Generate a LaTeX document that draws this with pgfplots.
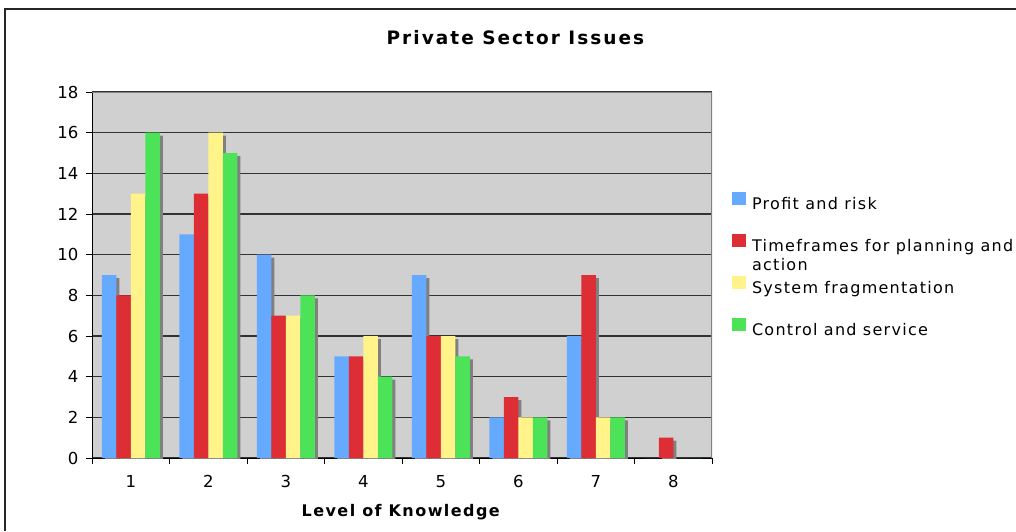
\documentclass[border=0pt]{standalone}
\usepackage{fontspec}
\setmainfont{DejaVu Sans}
\newfontfamily\titlefont[LetterSpace=11]{DejaVu Sans}
\newfontfamily\legfont[LetterSpace=8]{DejaVu Sans}
\newfontfamily\labfont[LetterSpace=9]{DejaVu Sans}
\newfontfamily\tickfont{DejaVu Sans}
\usepackage{pgfplots}
\pgfplotsset{compat=1.18}
\definecolor{cblue}{HTML}{66AAFF}
\definecolor{cred}{HTML}{DD2D35}
\definecolor{cyellow}{HTML}{FFF38A}
\definecolor{cgreen}{HTML}{4DE358}
\definecolor{plotbg}{HTML}{D0D0D0}
\definecolor{shadowc}{HTML}{808080}
\begin{document}
\begin{tikzpicture}
\path[use as bounding box] (0pt,0pt) rectangle (1016pt,531pt);
\draw[line width=1.5pt, black!85] (5pt,0pt) -- (5pt,522pt) -- (1016pt,522pt);
\begin{axis}[
  at={(92pt,73pt)}, anchor=south west,
  scale only axis, width=620pt, height=366pt,
  xmin=0.5, xmax=8.5, ymin=0, ymax=18,
  axis x line*=bottom, axis y line*=left,
  axis line style={black, line width=1pt},
  axis background/.style={fill=plotbg},
  ytick={0,2,...,18},
  xtick={0.5,1.5,...,8.5}, xticklabels={},
  extra x ticks={1,2,...,8},
  extra x tick style={major tick length=0pt},
  tick align=outside,
  major tick length=6pt,
  tick style={black, line width=1pt},
  ymajorgrids,
  major grid style={black!80, line width=1.2pt},
  /pgf/number format/assume math mode=true,
  tick label style={font=\tickfont\fontsize{16.5}{19}\selectfont},
  xticklabel style={yshift=-14pt},
  yticklabel style={xshift=-4pt},
  title={\titlefont\fontsize{18.5}{21}\selectfont\bfseries Private Sector Issues},
  title style={at={(0.683,1)}, anchor=base, yshift=42pt, inner sep=0pt},
  xlabel={\labfont\fontsize{16}{19}\selectfont\bfseries Level of Knowledge},
  xlabel style={at={(0.498,0)}, anchor=base, yshift=-58pt, inner sep=0pt},
  legend style={at={(1.032,0.726)}, anchor=north west, draw=none, fill=none,
    inner sep=0pt, row sep=21pt, column sep=6pt,
    font=\legfont\fontsize{16}{19}\selectfont,
    nodes={inner sep=0pt, text height=13pt, text depth=4pt}},
  legend cell align=left,
  legend image code/.code={\fill[#1] (0pt,-0.5pt) rectangle (14pt,12.5pt);},
  clip=true,
]
% shadows
\addplot[ybar, bar width=14.5pt, bar shift=-18.75pt, fill=shadowc, draw=none, forget plot, yshift=-3pt]
  coordinates {(1,9) (2,11) (3,10) (4,5) (5,9) (6,2) (7,6) (8,0)};
\addplot[ybar, bar width=14.5pt, bar shift=-4.25pt, fill=shadowc, draw=none, forget plot, yshift=-3pt]
  coordinates {(1,8) (2,13) (3,7) (4,5) (5,6) (6,3) (7,9) (8,1)};
\addplot[ybar, bar width=14.5pt, bar shift=10.25pt, fill=shadowc, draw=none, forget plot, yshift=-3pt]
  coordinates {(1,13) (2,16) (3,7) (4,6) (5,6) (6,2) (7,2) (8,0)};
\addplot[ybar, bar width=14.5pt, bar shift=24.75pt, fill=shadowc, draw=none, forget plot, yshift=-3pt]
  coordinates {(1,16) (2,15) (3,8) (4,4) (5,5) (6,2) (7,2) (8,0)};
% bars
\addplot[ybar, bar width=14.5pt, bar shift=-21.75pt, fill=cblue, draw=none]
  coordinates {(1,9) (2,11) (3,10) (4,5) (5,9) (6,2) (7,6) (8,0)};
\addlegendentry{Profit and risk}
\addplot[ybar, bar width=14.5pt, bar shift=-7.25pt, fill=cred, draw=none]
  coordinates {(1,8) (2,13) (3,7) (4,5) (5,6) (6,3) (7,9) (8,1)};
\addlegendentry{\smash{\begin{tabular}[t]{@{}l@{}}Timeframes for planning and\\action\end{tabular}}}
\addplot[ybar, bar width=14.5pt, bar shift=7.25pt, fill=cyellow, draw=none]
  coordinates {(1,13) (2,16) (3,7) (4,6) (5,6) (6,2) (7,2) (8,0)};
\addlegendentry{System fragmentation}
\addplot[ybar, bar width=14.5pt, bar shift=21.75pt, fill=cgreen, draw=none]
  coordinates {(1,16) (2,15) (3,8) (4,4) (5,5) (6,2) (7,2) (8,0)};
\addlegendentry{Control and service}
\draw[shadowc, line width=1.2pt] (rel axis cs:0,1) -- (rel axis cs:1,1) -- (rel axis cs:1,0);
\end{axis}
\end{tikzpicture}
\end{document}
